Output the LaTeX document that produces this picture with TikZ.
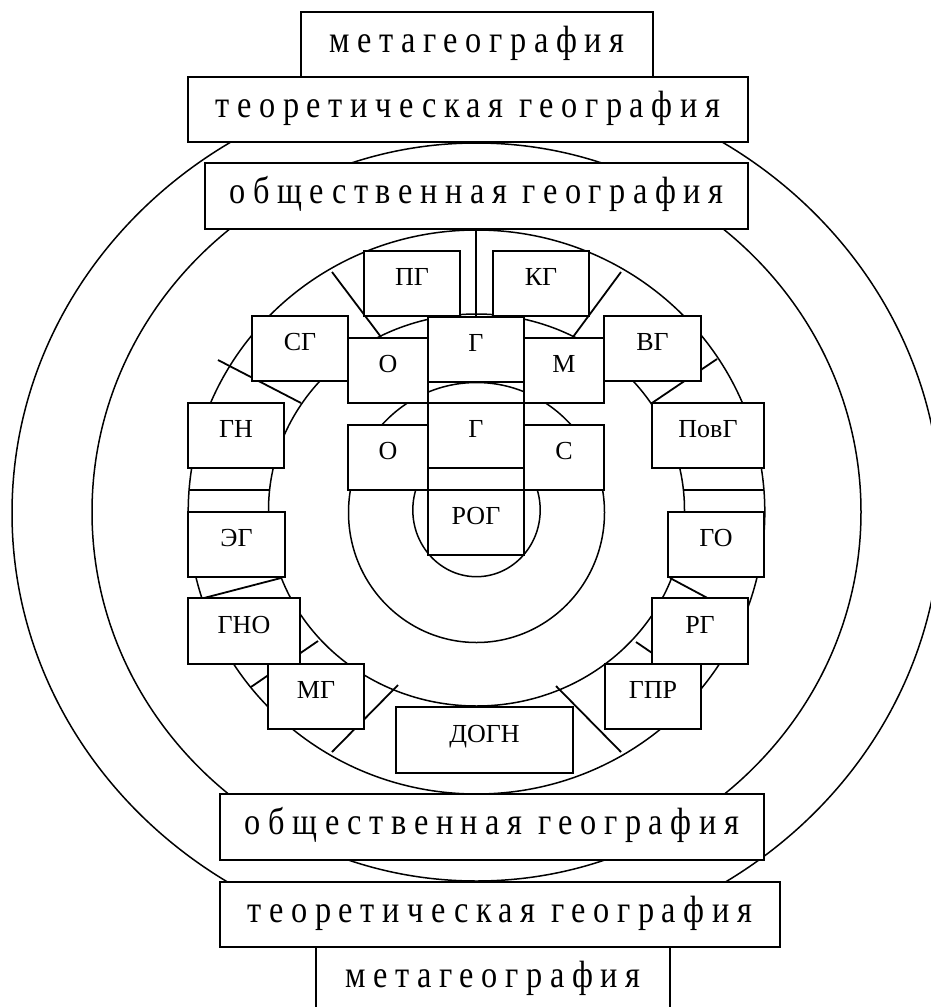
\documentclass[tikz,border=0pt]{standalone}
\usepackage{fontspec}
\setmainfont{Liberation Serif}
\newfontfamily\spacedfont[LetterSpace=20,FakeStretch=0.85]{Liberation Serif}

\begin{document}
\begin{tikzpicture}[x=1pt,y=-1pt,
    wide/.style={draw,fill=white,line width=1.9pt,inner sep=0pt,minimum height=65pt,
        font=\spacedfont\fontsize{38}{42}\selectfont,text height=26pt,text depth=10.4pt},
    cell/.style={draw,fill=white,line width=1.9pt,inner sep=0pt,minimum width=96pt,minimum height=65pt,
        font=\fontsize{26}{30}\selectfont,text height=17.5pt,text depth=12.8pt},
    ring/.style={line width=1.5pt},
    cut/.style={line width=1.8pt}]
    \useasboundingbox[fill=white] (0,0) rectangle (931,1007);

    % Rings
    \foreach \cy/\rx/\ry in {513/464.5/437, 512/384.5/369, 512/288.3/282,
                             510/208/196, 512.5/128/130, 510/63.7/66.7}
        \draw[ring] (476.5,\cy) ellipse [x radius=\rx, y radius=\ry];

    % Sector borders
    \foreach \xa/\ya/\xb/\yb in {332/272/381/337, 621/272/573/337,
                                 218/360/301/403, 652/403/717/359,
                                 189/490/270/490, 683/490/764/490,
                                 281/578/204/598, 670/578/743/617,
                                 251/687/318/641, 636/642/702/687,
                                 332/752/398/685, 556/686/621/752}
        \draw[cut] (\xa,\ya) -- (\xb,\yb);

    % Outer levels
    \node[wide,minimum width=560pt] (teortop) at (468,109.5) {теоретическая география};
    \node[wide,minimum width=352pt] (metatop) at (477,44.5) {метагеография};
    \node[wide,minimum width=543pt,minimum height=66pt] (obshtop) at (476.5,196) {общественная география};
    \node[wide,minimum width=544pt,minimum height=66pt] (obshbot) at (492,827) {общественная география};
    \node[wide,minimum width=560pt] (teorbot) at (500,914.5) {теоретическая география};
    \node[wide,minimum width=354pt] (metabot) at (493,979.5) {метагеография};

    % Branches
    \node[cell] (pg) at (412,283.5) {ПГ};
    \node[cell] (kg) at (541,283.5) {КГ};
    \node[cell] (sg) at (300,348.5) {СГ};
    \node[cell,minimum width=97pt] (vg) at (652.5,348.5) {ВГ};
    \node[cell] (gup) at (476,349.5) {Г};
    \node[cell,minimum width=80pt] (ou) at (388,370.5) {О};
    \node[cell,minimum width=80pt] (m) at (564,370.5) {М};
    \node[cell] (gn) at (236,435.5) {ГН};
    \node[cell,minimum width=112pt] (povg) at (708,435.5) {ПовГ};
    \node[cell] (gdn) at (476,435.5) {Г};
    \node[cell,minimum width=80pt] (od) at (388,457.5) {О};
    \node[cell,minimum width=80pt] (s) at (564,457.5) {С};
    \node[cell] (rog) at (476,522.5) {РОГ};
    \node[cell,minimum width=97pt] (eg) at (236.5,544.5) {ЭГ};
    \node[cell] (go) at (716,544.5) {ГО};
    \node[cell,minimum width=112pt,minimum height=66pt] (gno) at (244,631) {ГНО};
    \node[cell,minimum height=66pt] (rg) at (700,631) {РГ};
    \node[cell] (mg) at (316,696.5) {МГ};
    \node[cell] (gpr) at (653,696.5) {ГПР};
    \node[cell,minimum width=177pt,minimum height=66pt] (dogn) at (484.5,740) {ДОГН};

    % Axis of the scheme
    \draw[cut] (gup.north |- obshtop.south) -- (gup.north);
\end{tikzpicture}
\end{document}
